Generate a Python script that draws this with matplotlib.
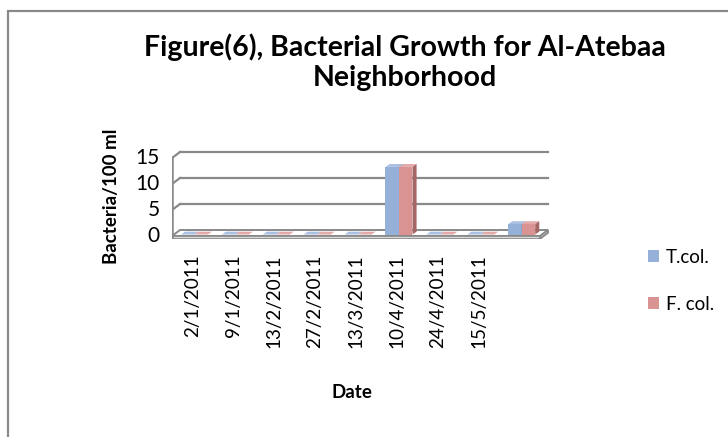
import matplotlib
matplotlib.use("Agg")
import matplotlib.pyplot as plt
from matplotlib.patches import Polygon, Rectangle, Patch

plt.rcParams["font.family"] = ["Lato", "DejaVu Sans"]

# sampling dates (the last column carries no date label)
dates = ["2/1/2011", "9/1/2011", "13/2/2011", "27/2/2011", "13/3/2011",
         "10/4/2011", "24/4/2011", "15/5/2011", ""]
t_col = [0, 0, 0, 0, 0, 13, 0, 0, 2]
f_col = [0, 0, 0, 0, 0, 13, 0, 0, 2]
y_ticks = [0, 5, 10, 15]
series_names = ["T.col.", "F. col."]

face_colors = ["#95B0D9", "#D89392"]
side_colors = ["#7287AA", "#A56766"]
top_colors = ["#A9C0E3", "#E3A9A8"]
grid_color = "#898989"

W, H = 728, 437
fig = plt.figure(figsize=(W / 100, H / 100), dpi=100)

# outer chart frame (runs off the right and bottom edges)
fig.patches.append(Rectangle((8 / W, -0.2), 1.2, 1.2 - 11 / H,
                             transform=fig.transFigure, fill=False,
                             edgecolor=grid_color, lw=1.6, clip_on=False))

ax = fig.add_axes([172 / W, 1 - 239 / H, 388 / W, 99 / H])
n = len(dates)
px_cat = 40.9
px_val = 5.2
ax.set_xlim(-0.5, -0.5 + 388 / px_cat)
ax.set_ylim(-3 / px_val, (236 - 140) / px_val)
ax.axis("off")

# depth of the floor / back wall in data units
DX = 8 / px_cat
DY = 6 / px_val
x_left, x_right = -0.5, n - 0.5
top = max(y_ticks)

# floor slab
thick = 0.55
ax.add_patch(Polygon([(x_left, 0), (x_right, 0), (x_right + DX, DY), (x_left + DX, DY)],
                     closed=True, facecolor="white", edgecolor=grid_color, lw=1.4, zorder=1))
ax.add_patch(Polygon([(x_left, -thick), (x_right, -thick), (x_right, 0), (x_left, 0)],
                     closed=True, facecolor="#D9D9D9", edgecolor=grid_color, lw=1.2, zorder=1))
ax.add_patch(Polygon([(x_right, -thick), (x_right + DX, DY - thick), (x_right + DX, DY), (x_right, 0)],
                     closed=True, facecolor="#BFBFBF", edgecolor=grid_color, lw=1.2, zorder=1))

# back wall gridlines and left wall
for v in y_ticks:
    if v > 0:
        ax.plot([x_left + DX, x_right + DX], [v + DY, v + DY], color=grid_color, lw=1.6, zorder=0)
        ax.plot([x_left, x_left + DX], [v, v + DY], color=grid_color, lw=1.6, zorder=0)
ax.plot([x_left, x_left], [-thick, top], color=grid_color, lw=1.8, zorder=2)

# 3-D style clustered columns
bw = 0.33
bdx, bdy = 0.1, 0.55
off = 0.25 * DY
for s, vals in enumerate([t_col, f_col]):
    for i, v in enumerate(vals):
        x0 = i - bw + s * bw + 0.05
        y0 = off
        ax.add_patch(Rectangle((x0, y0), bw, v, facecolor=face_colors[s],
                               edgecolor="none", zorder=3 + s))
        ax.add_patch(Polygon([(x0, y0 + v), (x0 + bw, y0 + v), (x0 + bw + bdx, y0 + v + bdy),
                              (x0 + bdx, y0 + v + bdy)], closed=True,
                             facecolor=top_colors[s], edgecolor="none", zorder=3 + s))
        ax.add_patch(Polygon([(x0 + bw, y0), (x0 + bw + bdx, y0 + bdy),
                              (x0 + bw + bdx, y0 + v + bdy), (x0 + bw, y0 + v)], closed=True,
                             facecolor=side_colors[s], edgecolor="none", zorder=3 + s))

# value and category labels
for v in y_ticks:
    ax.text(x_left - 12 / px_cat, v, str(v), ha="right", va="center", fontsize=15)
for i, d in enumerate(dates):
    ax.text(i, -18 / px_val, d, rotation=90, ha="center", va="top", fontsize=13.6)

fig.text(405 / W, 1 - 62 / H, "Figure(6), Bacterial Growth for Al-Atebaa\nNeighborhood",
         ha="center", va="center", fontsize=20.5, fontweight="bold", linespacing=1.2)
fig.text(112 / W, 1 - 196 / H, "Bacteria/100 ml", rotation=90, ha="center", va="center",
         fontsize=13.5, fontweight="bold")
fig.text(352 / W, 1 - 393 / H, "Date", ha="center", va="center",
         fontsize=13.5, fontweight="bold")

handles = [Patch(facecolor=c, edgecolor="none") for c in face_colors]
fig.legend(handles, series_names, loc="center left",
           bbox_to_anchor=(631 / W, 1 - 281 / H), frameon=False, fontsize=13.5,
           handlelength=0.6, handleheight=0.6, handletextpad=0.35, labelspacing=1.6)

fig.savefig("out.png", dpi=100)
